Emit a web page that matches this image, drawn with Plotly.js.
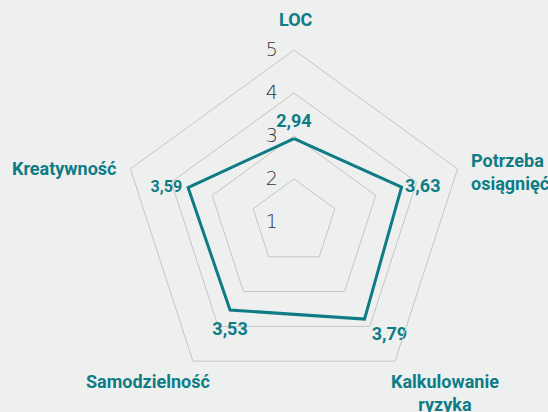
<!DOCTYPE html>
<html><head><meta charset="utf-8">
<script src="https://cdn.plot.ly/plotly-3.0.1.min.js"></script>
<style>html,body{margin:0;padding:0;background:#edf0ef;}</style>
</head><body>
<div id="chart" style="width:548px;height:412px;"></div>
<script>
const categories = ["LOC", "Potrzeba<br>osiągnięć", "Kalkulowanie<br>ryzyka", "Samodzielność", "Kreatywność"];
const values = [2.94, 3.63, 3.79, 3.53, 3.59];
const radialTicks = [1, 2, 3, 4, 5];

// styling of the value labels (per point)
const labelPositions = ["top center", "middle right", "bottom right", "bottom center", "middle left"];
const labelSizes = [18, 18, 18, 18, 16];
const labelOffsets = [9, 4, 10, 16, 8];   // invisible marker sizes used as text padding

// category label placement (paper coords, px from top-left)
const catPlace = [
  {x: 296, y: 20, xa: "center", al: "center"},
  {x: 469, y: 172, xa: "left", al: "left"},
  {x: 445, y: 393, xa: "center", al: "center"},
  {x: 148, y: 381, xa: "center", al: "center"},
  {x: 64, y: 168, xa: "center", al: "center"}
];

const teal = "#0f7c85";
const W = 548, H = 412;
const labels = values.map(v => v.toFixed(2).replace(".", ","));

const trace = {
  type: "scatterpolar",
  r: values.concat([values[0]]),
  theta: categories.concat([categories[0]]),
  mode: "lines+markers+text",
  text: labels.concat([""]),
  textposition: labelPositions.concat(["top center"]),
  textfont: {family: "Liberation Sans Narrow, Roboto, sans-serif", size: labelSizes.concat([17]), color: teal, weight: 700},
  marker: {size: labelOffsets.concat([0]), color: "rgba(0,0,0,0)", line: {width: 0, color: "rgba(0,0,0,0)"}},
  line: {color: teal, width: 3},
  hoverinfo: "skip",
  cliponaxis: false
};

const annotations = categories.map((c, i) => ({
  text: c,
  xref: "paper", yref: "paper",
  x: catPlace[i].x / W, y: 1 - catPlace[i].y / H,
  xanchor: catPlace[i].xa, yanchor: "middle",
  align: catPlace[i].al,
  showarrow: false,
  font: {family: "Liberation Sans Narrow, Roboto, sans-serif", size: 18, color: teal, weight: 700}
}));

const layout = {
  width: W, height: H,
  margin: {l: 0, r: 0, t: 0, b: 0},
  paper_bgcolor: "#edf0ef",
  plot_bgcolor: "#edf0ef",
  showlegend: false,
  annotations: annotations,
  polar: {
    bgcolor: "rgba(0,0,0,0)",
    domain: {x: [122/W, 466/W], y: [18/H, 362/H]},
    gridshape: "linear",
    radialaxis: {
      range: [1, 5],
      tickvals: radialTicks,
      ticktext: radialTicks.map(String),
      angle: 90,
      tickangle: 90,
      side: "counterclockwise",
      showline: false,
      gridcolor: "#c4c6c5",
      gridwidth: 1,
      ticks: "outside",
      ticklen: 9,
      tickcolor: "rgba(0,0,0,0)",
      tickfont: {family: "DejaVu Sans, sans-serif", size: 19, color: "#333", weight: 200}
    },
    angularaxis: {
      rotation: 90,
      direction: "clockwise",
      showgrid: false,
      showline: true,
      linecolor: "#c4c6c5",
      linewidth: 1,
      ticks: "",
      showticklabels: false
    }
  }
};

Plotly.newPlot("chart", [trace], layout, {staticPlot: true, displayModeBar: false});
</script>
</body></html>
